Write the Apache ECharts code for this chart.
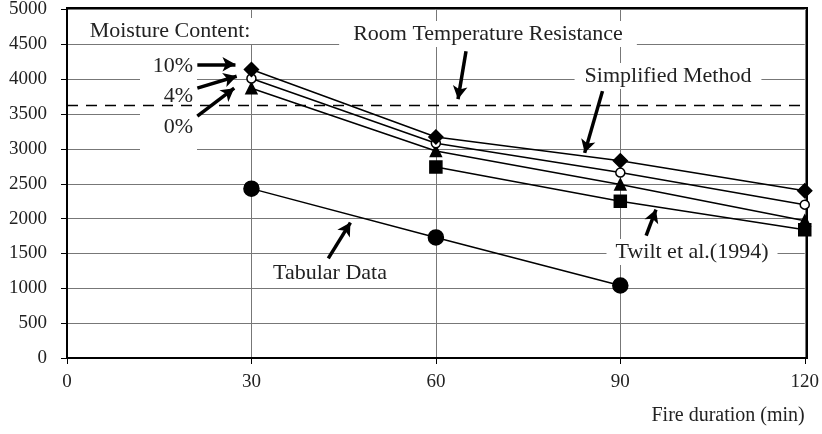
<!DOCTYPE html>
<html>
<head>
<meta charset="utf-8">
<script src="https://cdn.jsdelivr.net/npm/echarts@6/dist/echarts.min.js"></script>
<style>
  html, body { margin: 0; padding: 0; background: #fff; }
  #chart { width: 822px; height: 434px; }
</style>
</head>
<body>
<div id="chart"></div>
<script>
// fire duration (min)
const durations = [30, 60, 90, 120]
const moisture10 = [4140, 3170, 2830, 2400]
const moisture4 = [4010, 3080, 2660, 2200]
const moisture0 = [3870, 2970, 2490, 1970]
const twiltDurations = [60, 90, 120]
const twilt = [2740, 2250, 1840]
const tabularDurations = [30, 60, 90]
const tabular = [2430, 1730, 1040]
const roomTemperature = 3630
const yTicks = [0, 500, 1000, 1500, 2000, 2500, 3000, 3500, 4000, 4500, 5000]

const FONT = '"Liberation Serif", "Times New Roman", serif'
const pairs = (xs, ys) => xs.map((x, i) => [x, ys[i]])

// 注释箭头 (data coords)
const arrows = [
  [[21.2, 4214], [27.4, 4214]],
  [[21.2, 3871], [27.6, 4043]],
  [[21.2, 3471], [27.2, 3871]],
  [[64.9, 4400], [63.6, 3714]],
  [[87.1, 3829], [84.2, 2943]],
  [[94.2, 1757], [95.8, 2129]],
  [[42.5, 1429], [46.1, 1943]]
]

const lineSeries = (name, data, symbol, size, fill) => ({
  name,
  type: 'line',
  data,
  symbol,
  symbolSize: size,
  showSymbol: true,
  lineStyle: { color: '#000', width: 1.5 },
  itemStyle: { color: fill, borderColor: '#000', borderWidth: 1.5 },
  z: 5
})

const chart = echarts.init(document.getElementById('chart'))

const label = (text, x, y, align, pad) => ({
  type: 'text',
  x, y,
  z: 3,
  style: {
    text,
    font: '22px ' + FONT,
    fill: '#222',
    align: align || 'left',
    verticalAlign: 'middle',
    backgroundColor: '#fff',
    padding: pad || [2, 12]
  }
})

chart.setOption({
  animation: false,
  grid: { left: 67, right: 15, top: 8, bottom: 76 },
  xAxis: {
    type: 'value',
    min: 0, max: 120, interval: 30,
    name: 'Fire duration (min)',
    nameLocation: 'end',
    nameGap: 0,
    nameTextStyle: {
      fontFamily: FONT, fontSize: 20, color: '#222',
      align: 'right', verticalAlign: 'top', padding: [48, 0, 0, 0]
    },
    axisLine: { show: true, onZero: false, lineStyle: { color: '#000', width: 2 } },
    axisTick: { show: true, length: 6, lineStyle: { color: '#000' } },
    axisLabel: { fontFamily: FONT, fontSize: 19, color: '#222', margin: 15 },
    splitLine: { show: true, lineStyle: { color: '#777', width: 1 } }
  },
  yAxis: {
    type: 'value',
    min: 0, max: 5000, interval: 500,
    axisLine: { show: true, lineStyle: { color: '#000', width: 2 } },
    axisTick: { show: true, length: 6, lineStyle: { color: '#000' } },
    axisLabel: {
      fontFamily: FONT, fontSize: 19, color: '#222', margin: 20,
      formatter: v => yTicks.includes(v) ? String(v) : ''
    },
    splitLine: { show: true, lineStyle: { color: '#777', width: 1 } }
  },
  graphic: [
    // 框线
    {
      type: 'rect', shape: { x: 67, y: 8, width: 740, height: 350 },
      style: { fill: null, stroke: '#000', lineWidth: 2 }, z: 4, silent: true
    },
    { type: 'rect', shape: { x: 140, y: 52, width: 57, height: 100 }, style: { fill: '#fff' }, z: 2 },
    label('Moisture Content:', 170, 31, 'center', [2, 6]),
    label('10%', 193, 66, 'right', [0, 0]),
    label('4%', 193, 96, 'right', [0, 0]),
    label('0%', 193, 127, 'right', [0, 0]),
    label('Room Temperature Resistance', 488, 34, 'center', [2, 14]),
    label('Simplified Method', 668, 76, 'center', [2, 10]),
    label('Twilt et al.(1994)', 692, 252, 'center', [2, 9]),
    label('Tabular Data', 330, 273, 'center', [2, 6])
  ],
  series: [
    lineSeries('Tabular Data', pairs(tabularDurations, tabular), 'circle', 15, '#000'),
    lineSeries('Twilt et al.(1994)', pairs(twiltDurations, twilt), 'rect', 12, '#000'),
    lineSeries('0%', pairs(durations, moisture0), 'triangle', 11, '#000'),
    lineSeries('4%', pairs(durations, moisture4), 'circle', 9, '#fff'),
    lineSeries('10%', pairs(durations, moisture10), 'diamond', 14, '#000'),
    {
      name: 'Room Temperature Resistance',
      type: 'line',
      data: [],
      markLine: {
        silent: true,
        symbol: 'none',
        label: { show: false },
        lineStyle: { color: '#000', type: [11, 8], width: 1.3 },
        data: [{ yAxis: roomTemperature }]
      }
    },
    {
      name: 'arrows',
      type: 'line',
      data: [],
      z: 6,
      markLine: {
        silent: true,
        symbol: ['none', 'arrow'],
        symbolSize: [11, 13],
        label: { show: false },
        lineStyle: { color: '#000', type: 'solid', width: 3.5 },
        data: arrows.map(a => [{ coord: a[0] }, { coord: a[1] }])
      }
    }
  ]
})
</script>
</body>
</html>
